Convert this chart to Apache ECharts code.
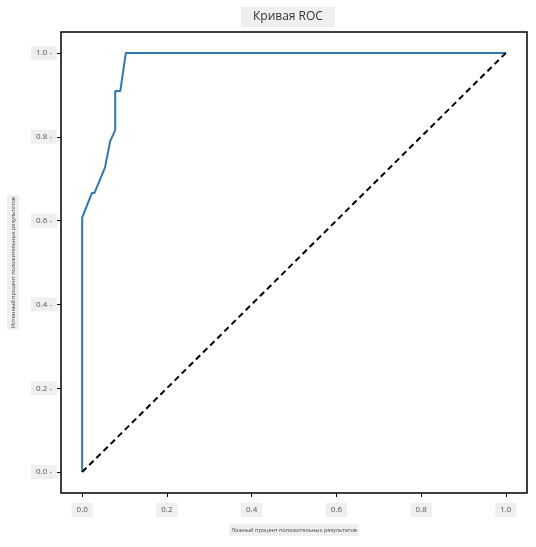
<!DOCTYPE html>
<html>
<head>
<meta charset="utf-8">
<script src="https://cdn.jsdelivr.net/npm/echarts@6/dist/echarts.min.js"></script>
<style>
  html, body { margin: 0; padding: 0; background: #fff; }
  #roc { width: 536px; height: 547px; }
</style>
</head>
<body>
<div id="roc"></div>
<script>
// данные кривой
var fpr = [0, 0, 0.023, 0.029, 0.054, 0.066, 0.078, 0.078, 0.090, 0.103, 1.0];
var tpr = [0, 0.607, 0.666, 0.666, 0.727, 0.789, 0.816, 0.909, 0.909, 1.0, 1.0];
var diagX = [0, 1];
var diagY = [0, 1];
var ticks = [0, 0.2, 0.4, 0.6, 0.8, 1.0];

var myChart = echarts.init(document.getElementById('roc'));

var pairs = function (xs, ys) {
    var res = [];
    for (var i = 0; i < xs.length; i++) {
        res.push([xs[i], ys[i]]);
    }
    return res;
};

var labelStyle = {
    fontFamily: 'Open Sans',
    fontSize: 8,
    color: '#555',
    backgroundColor: '#efefef',
    padding: [3, 5],
    customValues: ticks,
    formatter: function (v) { return v.toFixed(1); }
};

var nameStyle = {
    fontFamily: 'Open Sans',
    fontSize: 5.5,
    color: '#444',
    backgroundColor: '#efefef',
    padding: [3, 2]
};

var option = {
    backgroundColor: '#fff',
    animation: false,
    title: {
        text: 'Кривая ROC',
        left: 241,
        top: 7,
        backgroundColor: '#efefef',
        padding: [4, 12],
        textStyle: {
            fontFamily: 'Open Sans',
            fontSize: 12,
            fontWeight: 'normal',
            color: '#333'
        }
    },
    grid: {
        left: 61,
        right: 9,
        top: 32,
        bottom: 54,
        containLabel: false,
        outerBoundsMode: 'none',
        show: true,
        borderColor: '#000',
        borderWidth: 1.5
    },
    xAxis: {
        type: 'value',
        min: -0.05,
        max: 1.05,
        name: 'Ложный процент положительных результатов',
        nameLocation: 'middle',
        nameGap: 31,
        nameTextStyle: nameStyle,
        axisLine: { show: false, onZero: false },
        splitLine: { show: false },
        axisTick: { show: true, inside: false, length: 4, customValues: ticks, lineStyle: { color: '#000', width: 1 } },
        axisLabel: Object.assign({ margin: 10 }, labelStyle)
    },
    yAxis: {
        type: 'value',
        min: -0.05,
        max: 1.05,
        name: 'Истинный процент положительных результатов',
        nameLocation: 'middle',
        nameRotate: 90,
        nameGap: 42,
        nameTextStyle: nameStyle,
        axisLine: { show: false, onZero: false },
        splitLine: { show: false },
        axisTick: { show: true, inside: false, length: 4, customValues: ticks, lineStyle: { color: '#000', width: 1 } },
        axisLabel: Object.assign({ margin: 4 }, labelStyle, {
            formatter: function (v) { return v.toFixed(1) + ' -'; }
        })
    },
    series: [
        {
            name: 'ROC',
            type: 'line',
            data: pairs(fpr, tpr),
            showSymbol: false,
            lineStyle: { color: '#2b78b3', width: 2 }
        },
        {
            name: 'random',
            type: 'line',
            data: pairs(diagX, diagY),
            showSymbol: false,
            lineStyle: { color: '#000', width: 2, type: [6, 4] }
        }
    ]
};
myChart.setOption(option);
</script>
</body>
</html>
